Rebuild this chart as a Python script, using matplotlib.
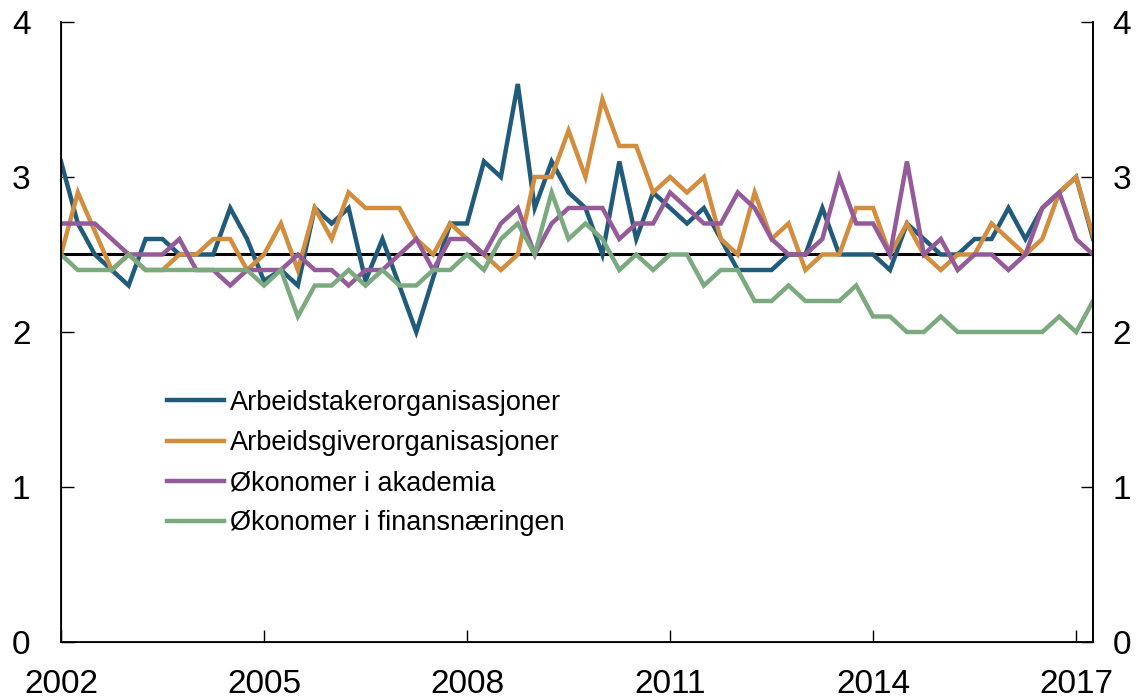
import numpy as np
import matplotlib
matplotlib.use("Agg")
import matplotlib.pyplot as plt

# Kvartalsvise observasjoner, 2002K1 - 2017K2
start_year = 2002
n_quarters = 62

arbeidstaker = [3.1, 2.7, 2.5, 2.4, 2.3, 2.6, 2.6, 2.5, 2.5, 2.5, 2.8, 2.6, 2.33, 2.4, 2.3, 2.8,
                2.7, 2.8, 2.33, 2.6, 2.3, 2.0, 2.35, 2.7, 2.7, 3.1, 3.0, 3.6, 2.8, 3.1, 2.9, 2.8,
                2.5, 3.1, 2.6, 2.9, 2.8, 2.7, 2.8, 2.6, 2.4, 2.4, 2.4, 2.5, 2.5, 2.8, 2.5, 2.5,
                2.5, 2.4, 2.7, 2.6, 2.5, 2.5, 2.6, 2.6, 2.8, 2.6, 2.8, 2.9, 3.0, 2.6]
arbeidsgiver = [2.5, 2.9, 2.65, 2.4, 2.5, 2.4, 2.4, 2.5, 2.5, 2.6, 2.6, 2.4, 2.5, 2.7, 2.4, 2.8,
                2.6, 2.9, 2.8, 2.8, 2.8, 2.6, 2.5, 2.7, 2.6, 2.5, 2.4, 2.5, 3.0, 3.0, 3.3, 3.0,
                3.5, 3.2, 3.2, 2.9, 3.0, 2.9, 3.0, 2.6, 2.5, 2.9, 2.6, 2.7, 2.4, 2.5, 2.5, 2.8,
                2.8, 2.5, 2.7, 2.5, 2.4, 2.5, 2.5, 2.7, 2.6, 2.5, 2.6, 2.9, 3.0, 2.62]
akademia = [2.7, 2.7, 2.7, 2.6, 2.5, 2.5, 2.5, 2.6, 2.4, 2.4, 2.3, 2.4, 2.4, 2.4, 2.5, 2.4,
            2.4, 2.3, 2.4, 2.4, 2.5, 2.6, 2.4, 2.6, 2.6, 2.5, 2.7, 2.8, 2.5, 2.7, 2.8, 2.8,
            2.8, 2.6, 2.7, 2.7, 2.9, 2.8, 2.7, 2.7, 2.9, 2.8, 2.6, 2.5, 2.5, 2.6, 3.0, 2.7,
            2.7, 2.5, 3.1, 2.5, 2.6, 2.4, 2.5, 2.5, 2.4, 2.5, 2.8, 2.9, 2.6, 2.5]
finans = [2.5, 2.4, 2.4, 2.4, 2.5, 2.4, 2.4, 2.4, 2.4, 2.4, 2.4, 2.4, 2.3, 2.4, 2.1, 2.3,
          2.3, 2.4, 2.3, 2.4, 2.3, 2.3, 2.4, 2.4, 2.5, 2.4, 2.6, 2.7, 2.5, 2.9, 2.6, 2.7,
          2.6, 2.4, 2.5, 2.4, 2.5, 2.5, 2.3, 2.4, 2.4, 2.2, 2.2, 2.3, 2.2, 2.2, 2.2, 2.3,
          2.1, 2.1, 2.0, 2.0, 2.1, 2.0, 2.0, 2.0, 2.0, 2.0, 2.0, 2.1, 2.0, 2.2]

series = [
    ("Arbeidstakerorganisasjoner", arbeidstaker, "#215b7c"),
    ("Arbeidsgiverorganisasjoner", arbeidsgiver, "#d38d3e"),
    ("Økonomer i akademia", akademia, "#955a99"),
    ("Økonomer i finansnæringen", finans, "#7baa7f"),
]
inflasjonsmaal = 2.5
year_ticks = [2002, 2005, 2008, 2011, 2014, 2017]
y_ticks = [0, 1, 2, 3, 4]

plt.rcParams['font.family'] = ['Liberation Sans', 'DejaVu Sans']

t = start_year + np.arange(n_quarters) / 4.0

fig = plt.figure(figsize=(11.46, 6.98), dpi=100)
ax = fig.add_axes([0.0532, 0.0802, 0.9006, 0.8883])

ax.axhline(inflasjonsmaal, color="black", lw=2.2, zorder=1)
for label, vals, col in series:
    ax.plot(t, vals, color=col, lw=3.2, label=label, solid_joinstyle="miter", zorder=2)

ax.set_xlim(start_year, t[-1])
ax.set_ylim(0, 4)
ax.set_xticks(year_ticks)
ax.set_yticks(y_ticks)

ax.spines['top'].set_visible(False)
for s in ['left', 'right', 'bottom']:
    ax.spines[s].set_linewidth(1.3)

ax.tick_params(axis='x', direction='in', length=9, width=1, labelsize=24, pad=19.5)
ax.tick_params(axis='y', direction='in', length=9, width=1, labelsize=24, pad=22,
               left=True, right=True, labelleft=True, labelright=False)

# Samme skala på høyre akse
ax2 = ax.twinx()
ax2.set_ylim(ax.get_ylim())
ax2.set_yticks(y_ticks)
ax2.spines['top'].set_visible(False)
ax2.spines['right'].set_linewidth(1.3)
ax2.tick_params(axis='y', direction='in', length=9, width=1, labelsize=24, pad=14)

leg = ax.legend(loc="upper left", bbox_to_anchor=(0.092, 0.424), frameon=False,
                fontsize=19.5, handlelength=2.1, handletextpad=0.22, labelspacing=0.52,
                borderaxespad=0)

fig.savefig("out.png", dpi=100)
